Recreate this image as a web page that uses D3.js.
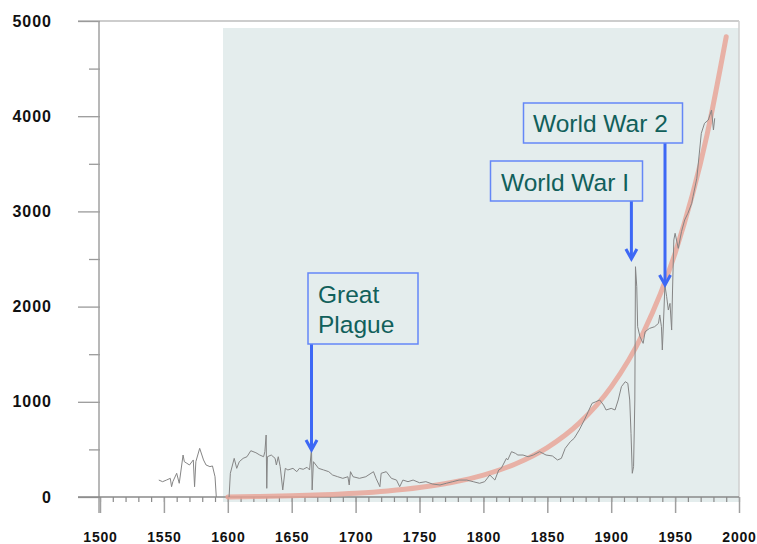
<!DOCTYPE html>
<html>
<head>
<meta charset="utf-8">
<script src="https://cdn.jsdelivr.net/npm/d3@7"></script>
<style>
  html, body { margin: 0; padding: 0; background: #ffffff; }
  svg { display: block; }
</style>
</head>
<body>
<svg id="chart" width="757" height="544"></svg>
<script>
// ---------------- DATA ----------------
const years = [
  1546,1549,1552,1555,1556,1557,1560,1562,1565,1566,1568,1570,1573,1574,1575,1578,1581,1583,1586,1588,1590,1591,
  1595,
  1601,1602,1605,1607,1609,1612,1615,1618,1622,1625,1628,1629,1630,1630.5,1631,1634,1637,1638,1639.5,1641,1643,1645,
  1647,1651,1654,1656,1659,1662,1664,1665.5,1666,1667,1671,1675,1679,1682,1686,1690,1694,1695,1696,1698,1703,1708,
  1714,1716,1719,1720,1724,1728,1732,1734.5,1737,1741,1745,1750,1755,1760,1766,1771,1776,1781,1787,1792,1797,1801,
  1805,1809,1812,1814,1818,1819,1822,1825,1827,1831,1835,1839,1844,1849,1854,1858,1861,1864,1868,1871,1875,1879,
  1882,1885,1888,1891,1894,1896,1900,1903,1905.5,1908,1911,1913,1914.5,1915.5,1916.5,1917.5,1918.5,1919,1920,1920.7,
  1922.5,1925,1926.5,1930,1934,1937,1938,1939.3,1940,1941.3,1942,1943.4,1944.7,1946,1947.3,1948,1949,1950,1952.5,
  1955,1957.5,1960,1963,1964,1967,1970.5,1973,1976,1978.5,1980,1981
];
const deaths = [
  178,161,178,196,108,161,249,144,441,371,354,336,389,108,371,511,389,336,319,326,213,0,
  null,
  0,249,406,301,371,406,423,486,465,441,423,476,651,91,423,441,406,336,423,319,74,301,
  284,301,266,301,291,312,284,511,74,371,301,284,266,231,213,196,213,126,266,213,196,213,
  266,196,108,249,266,196,178,108,178,161,178,150,161,137,126,144,161,178,178,161,144,161,
  231,178,284,301,406,389,476,459,441,441,423,441,476,441,431,389,406,511,581,616,704,809,
  896,984,1001,1019,966,914,931,914,1019,1159,1211,1194,1019,669,249,319,1019,2419,2209,1789,
  1684,1614,1736,1771,1789,1824,1912,1789,1544,1964,2227,2104,1964,2034,1754,2174,2700,2770,2612,
  2787,2910,2980,3085,3155,3348,3820,3925,3960,4065,3855,3978
];

const trendYears  = [1600,1625,1650,1675,1700,1725,1750,1775,1800,1825,1850,1875,1900,1925,1950,1975,1990];
const trendValues = [0,5,12,23,39,63,99,152,230,347,519,776,1157,1723,2561,3805,4835];

const yTicks = [0,1000,2000,3000,4000,5000];
const yMinorTicks = [500,1500,2500,3500,4500];
const xTicks = [1500,1550,1600,1650,1700,1750,1800,1850,1900,1950,2000];
const xMinorTicks = d3.range(1500, 2001, 10);

const annotationLabels = [["Great","Plague"],["World War I"],["World War 2"]];
const annotationYears  = [1665.5, 1915.8, 1942.1];
const annotationValues = [494, 2500, 2227];

// ---------------- LAYOUT ----------------
const svg = d3.select("#chart");
const x = d3.scaleLinear().domain([1500, 2000]).range([100, 739]);
const y = d3.scaleLinear().domain([0, 5000]).range([497, 21]);
const fmt = d3.format("d");

// shaded region
svg.append("rect")
  .attr("x", 223).attr("y", 28)
  .attr("width", 739 - 223).attr("height", 502 - 28)
  .attr("fill", "#e4eded");

// frame (top & right)
svg.append("line").attr("x1", 78).attr("x2", 739).attr("y1", 21).attr("y2", 21)
  .attr("stroke", "#bdbdbd").attr("stroke-width", 1.5);
svg.append("line").attr("x1", 739).attr("x2", 739).attr("y1", 21).attr("y2", 497)
  .attr("stroke", "#cfcfcf").attr("stroke-width", 1.5);

// y axis
const yAxisMajor = d3.axisLeft(y).tickValues(yTicks).tickSize(22).tickPadding(26).tickFormat(fmt);
const gy = svg.append("g").attr("transform", "translate(100,0)").call(yAxisMajor);
gy.select(".domain").remove();
gy.selectAll("line").attr("stroke", "#9a9a9a").attr("stroke-width", 1.3);
gy.selectAll("text")
  .attr("fill", "#111")
  .style("font-family", "'Liberation Sans', Arial, sans-serif")
  .style("font-weight", "bold")
  .style("font-size", "16px")
  .style("letter-spacing", "1px");
const gyMinor = svg.append("g").attr("transform", "translate(100,0)")
  .call(d3.axisLeft(y).tickValues(yMinorTicks).tickSize(11).tickFormat(""));
gyMinor.select(".domain").remove();
gyMinor.selectAll("line").attr("stroke", "#9a9a9a").attr("stroke-width", 1.3);
svg.append("line").attr("x1", 99).attr("x2", 99).attr("y1", 21).attr("y2", 513)
  .attr("stroke", "#a0a0a0").attr("stroke-width", 1.5);

// x axis
const gxMinor = svg.append("g").attr("transform", "translate(0,497)")
  .call(d3.axisBottom(x).tickValues(xMinorTicks).tickSize(5).tickFormat(""));
gxMinor.select(".domain").remove();
gxMinor.selectAll("line").attr("stroke", "#8a8a8a").attr("stroke-width", 1.2);
const gx = svg.append("g").attr("transform", "translate(0,497)")
  .call(d3.axisBottom(x).tickValues(xTicks).tickSize(16).tickPadding(19).tickFormat(fmt));
gx.select(".domain").remove();
gx.selectAll("line").attr("stroke", "#a0a0a0").attr("stroke-width", 1.5);
gx.selectAll("text")
  .attr("fill", "#111")
  .style("font-family", "'Liberation Sans', Arial, sans-serif")
  .style("font-weight", "bold")
  .style("font-size", "14px")
  .style("letter-spacing", "0.8px");
svg.append("line").attr("x1", 78).attr("x2", 739).attr("y1", 497).attr("y2", 497)
  .attr("stroke", "#8a8a8a").attr("stroke-width", 1.4);

// trend curve
const trend = trendYears.map((t, i) => [t, trendValues[i]]);
svg.append("path")
  .datum(trend)
  .attr("fill", "none")
  .attr("stroke", "#e8a194")
  .attr("stroke-opacity", 0.8)
  .attr("stroke-width", 5)
  .attr("stroke-linecap", "round")
  .attr("d", d3.line().x(d => x(d[0])).y(d => y(d[1])).curve(d3.curveMonotoneX));

// data line
const series = years.map((t, i) => [t, deaths[i]]);
svg.append("path")
  .datum(series)
  .attr("fill", "none")
  .attr("stroke", "#858585")
  .attr("stroke-width", 1)
  .attr("stroke-linejoin", "round")
  .attr("d", d3.line().defined(d => d[1] !== null).x(d => x(d[0])).y(d => y(d[1])));

// annotations
const boxes = [
  {x: 308, y: 273, w: 110, h: 71, tx: 318, lines: [303, 333]},
  {x: 490.5, y: 161, w: 152, h: 40, tx: 501, lines: [191]},
  {x: 523.5, y: 103, w: 159, h: 40, tx: 533, lines: [132]}
];
const blue = "#3d68f5";
boxes.forEach((b, i) => {
  const tipX = x(annotationYears[i]);
  const tipY = y(annotationValues[i]);
  svg.append("line")
    .attr("x1", tipX).attr("x2", tipX)
    .attr("y1", b.y + b.h).attr("y2", tipY - 1)
    .attr("stroke", blue).attr("stroke-width", 3);
  svg.append("path")
    .attr("d", `M${tipX - 5.5},${tipY - 10} L${tipX},${tipY} L${tipX + 5.5},${tipY - 10}`)
    .attr("fill", "none").attr("stroke", blue).attr("stroke-width", 3)
    .attr("stroke-linejoin", "miter");
  svg.append("rect")
    .attr("x", b.x).attr("y", b.y).attr("width", b.w).attr("height", b.h)
    .attr("fill", "#e4eded").attr("stroke", "#6487f7").attr("stroke-width", 1.5);
  annotationLabels[i].forEach((txt, j) => {
    svg.append("text")
      .attr("x", b.tx).attr("y", b.lines[j])
      .attr("fill", "#11605b")
      .style("font-family", "'Liberation Sans', Arial, sans-serif")
      .style("font-size", "24.5px")
      .text(txt);
  });
});
</script>
</body>
</html>
